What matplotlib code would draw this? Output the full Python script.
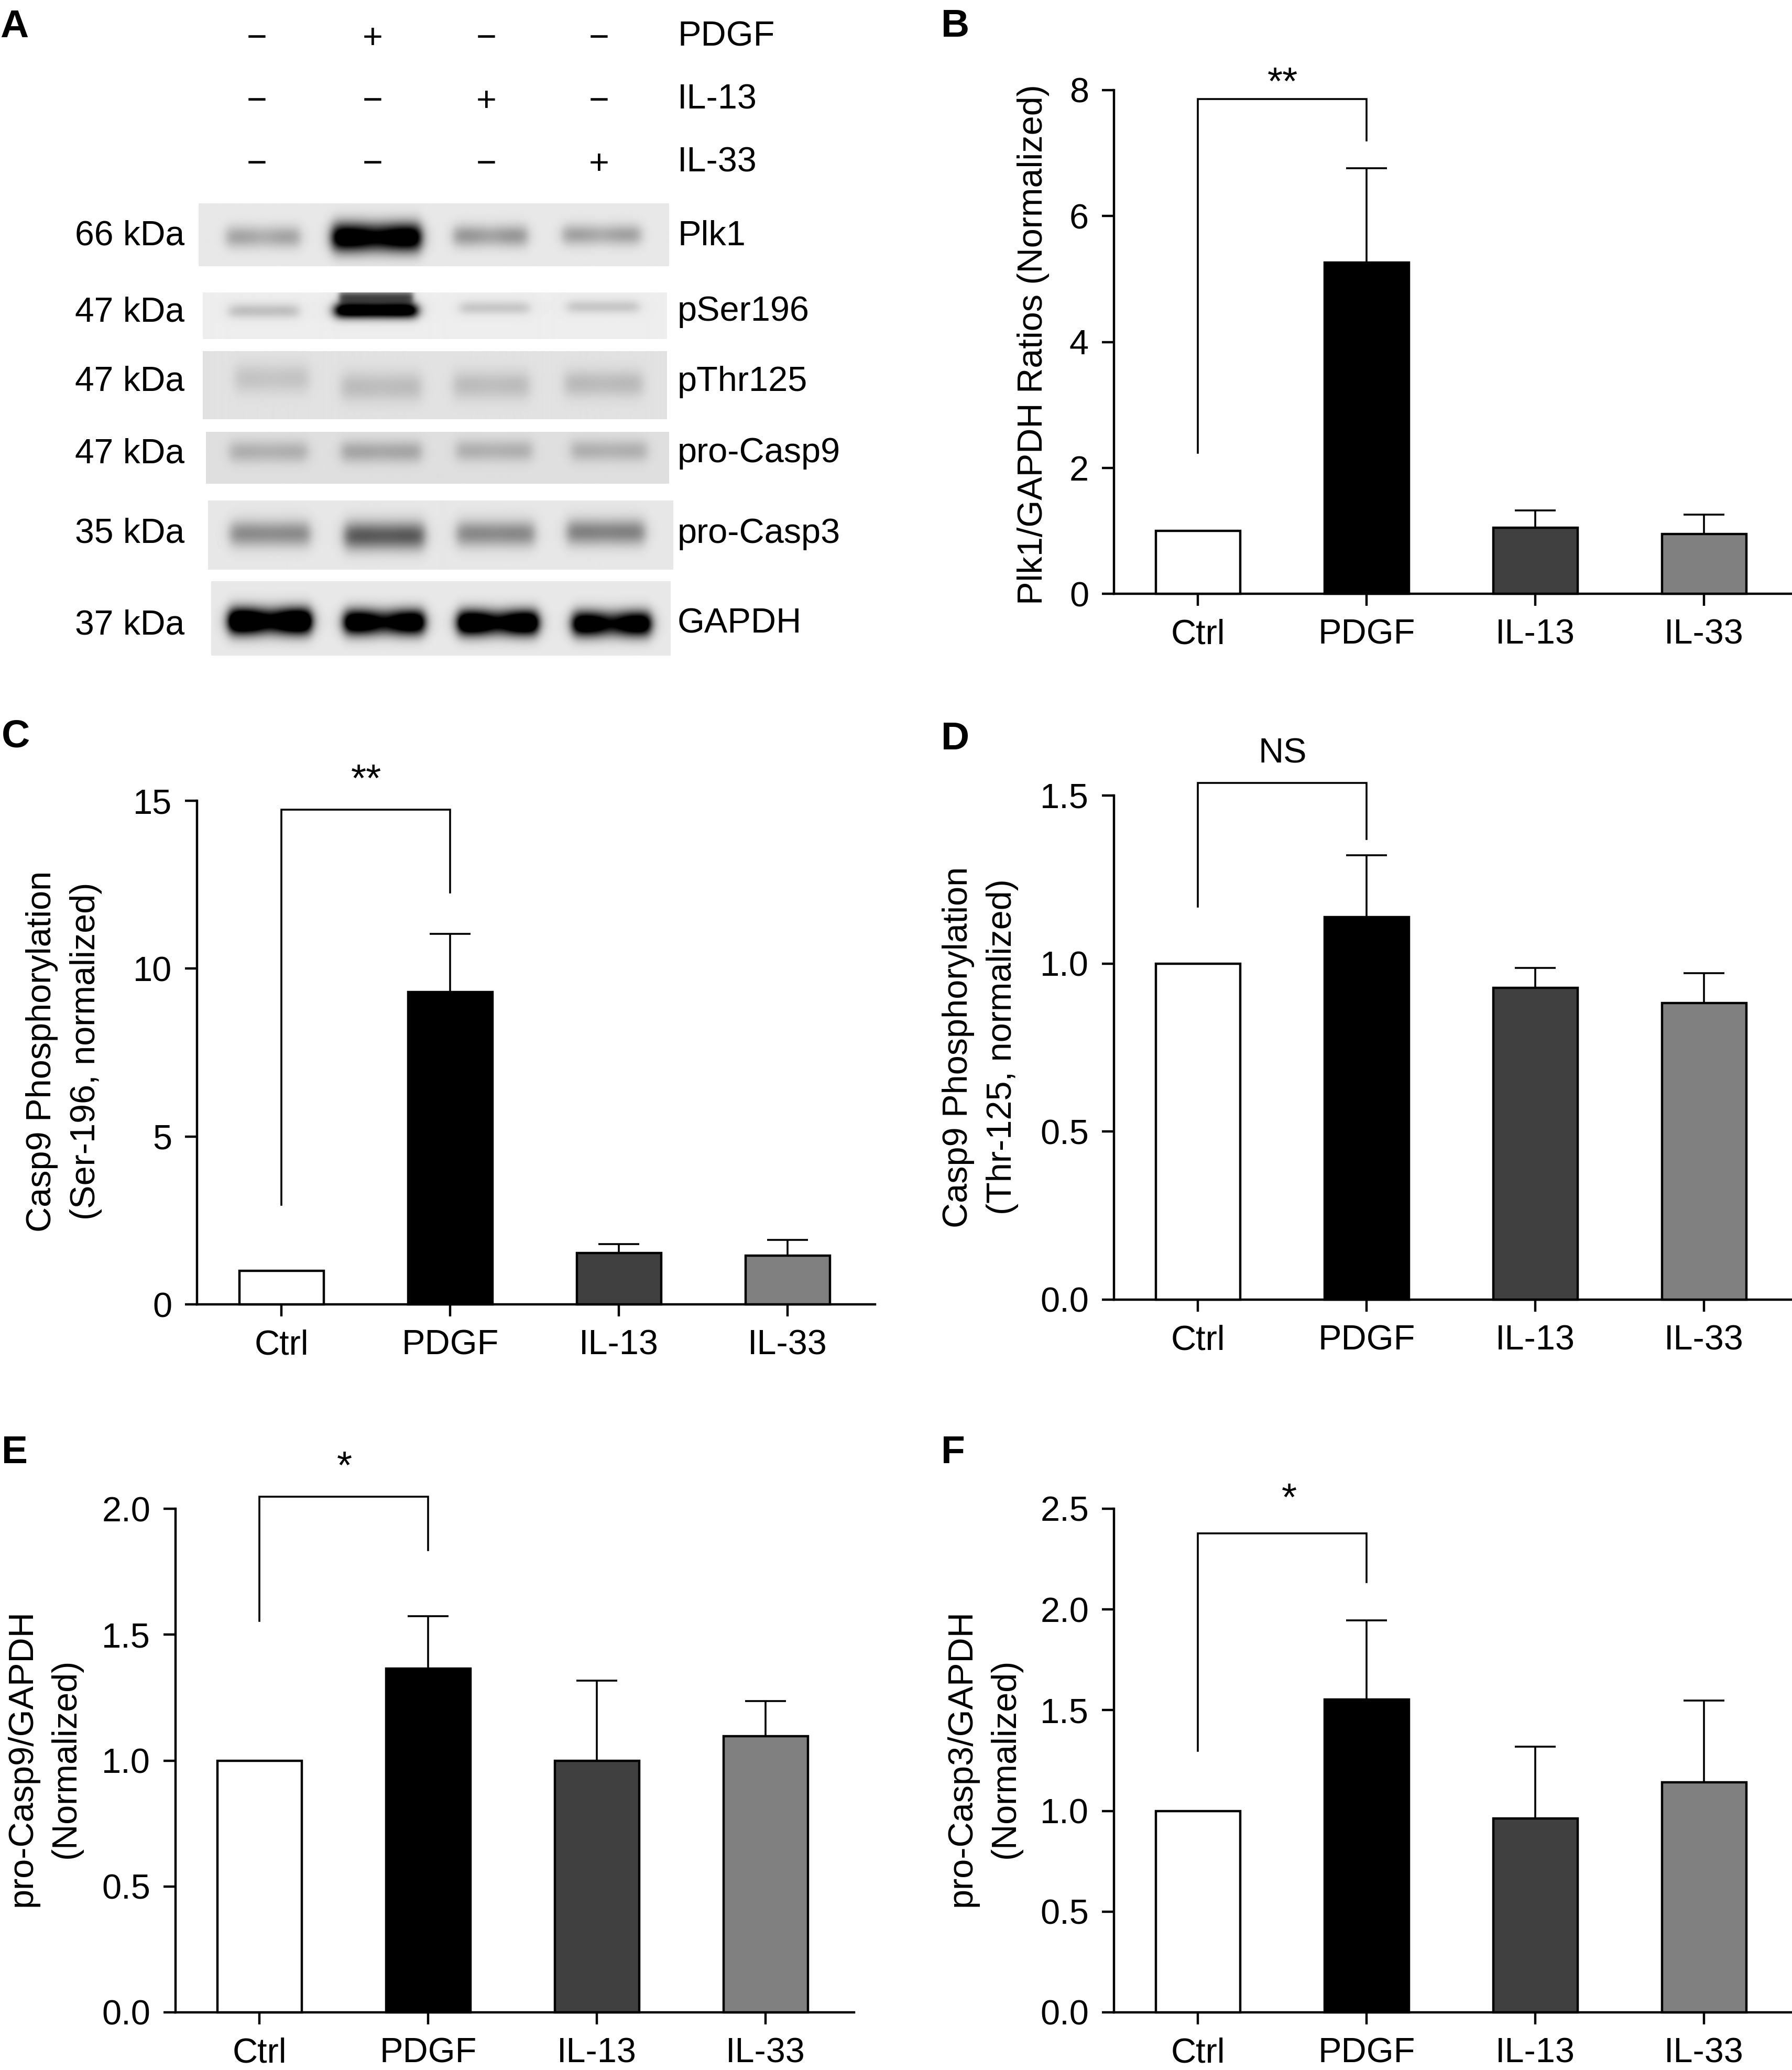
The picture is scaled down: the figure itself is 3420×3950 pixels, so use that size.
import numpy as np
import matplotlib
matplotlib.use("Agg")
import matplotlib.pyplot as plt

plt.rcParams["font.family"] = ["Liberation Sans", "DejaVu Sans"]

W, H = 3420, 3950
FS = 48
LW = 3.2

categories = ["Ctrl", "PDGF", "IL-13", "IL-33"]
bar_colors = ["white", "black", "#404040", "#808080"]

# panel values: bar height and top of the error bar
plk1_vals = [1.0, 5.26, 1.05, 0.945]
plk1_tops = [None, 6.76, 1.32, 1.256]
ser196_vals = [1.0, 9.30, 1.53, 1.45]
ser196_tops = [None, 11.04, 1.80, 1.92]
thr125_vals = [1.0, 1.139, 0.927, 0.882]
thr125_tops = [None, 1.323, 0.987, 0.971]
casp9_vals = [1.0, 1.366, 1.0, 1.096]
casp9_tops = [None, 1.574, 1.318, 1.237]
casp3_vals = [1.0, 1.552, 0.963, 1.141]
casp3_tops = [None, 1.946, 1.32, 1.548]

# significance brackets: left foot, top, right foot
plk1_bracket = [2.24, 7.86, 7.2]
ser196_bracket = [2.96, 14.74, 12.27]
thr125_bracket = [1.169, 1.538, 1.371]
casp9_bracket = [1.555, 2.048, 1.836]
casp3_bracket = [1.299, 2.378, 2.137]

# blot header
treatments = ["PDGF", "IL-13", "IL-33"]
treatment_signs = [["−", "+", "−", "−"],
                   ["−", "−", "+", "−"],
                   ["−", "−", "−", "+"]]

# blot strips, band darkness per lane
blot_names = ["Plk1", "pSer196", "pThr125", "pro-Casp9", "pro-Casp3", "GAPDH"]
blot_kda = ["66 kDa", "47 kDa", "47 kDa", "47 kDa", "35 kDa", "37 kDa"]
blot_bands = [[0.27, 1.25, 0.32, 0.28],
              [0.18, 1.25, 0.15, 0.15],
              [0.12, 0.15, 0.15, 0.16],
              [0.19, 0.23, 0.19, 0.19],
              [0.36, 0.56, 0.37, 0.40],
              [1.60, 1.40, 1.50, 1.35]]
blot_dips = [0.18, 0.03, 0.08, 0.08, 0.04, 0.30]
blot_bg = [0.91, 0.93, 0.885, 0.875, 0.905, 0.91]

fig = plt.figure(figsize=(W / 100, H / 100), dpi=100, facecolor="white")


def px_text(x, y, s, **kw):
    kw.setdefault("fontsize", FS)
    kw.setdefault("va", "baseline")
    return fig.text(x / W, 1 - y / H, s, color="black", **kw)


def strip(box, lanes, widths, centers, halves, bands, dip, bg, extra=None):
    x0, x1, y0, y1 = box
    ax = fig.add_axes([x0 / W, 1 - y1 / H, (x1 - x0) / W, (y1 - y0) / H])
    xx, yy = np.meshgrid(np.arange(x0, x1), np.arange(y0, y1))
    img = np.full(xx.shape, float(bg))
    for lane, hw, yc, half, d in zip(lanes, widths, centers, halves, bands):
        across = 0.5 * (np.tanh((xx - lane + hw) / 12) - np.tanh((xx - lane - hw) / 12))
        across = across * (1 - dip * np.exp(-((xx - lane) / (0.4 * hw)) ** 2))
        img -= d * across * np.exp(-((yy - yc) / half) ** 2)
    if extra:
        lane, hw, yc, half, d = extra
        across = 0.5 * (np.tanh((xx - lane + hw) / 6) - np.tanh((xx - lane - hw) / 6))
        img -= d * across * np.exp(-((yy - yc) / half) ** 2)
    ax.imshow(np.clip(img, 0, 1), cmap="gray", vmin=0, vmax=1, aspect="auto",
              interpolation="bilinear")
    ax.axis("off")


def panel(left, right, top, bottom, c0, ymax, yticks, ticklabels, vals, tops, bracket):
    ax = fig.add_axes([left / W, 1 - bottom / H, (right - left) / W, (bottom - top) / H])
    ax.patch.set_alpha(0)
    ax.set_xlim((left - c0) / 322, (right - c0) / 322)
    ax.set_ylim(0, ymax)
    x = np.arange(4)
    ax.bar(x, vals, width=0.5, color=bar_colors, edgecolor="black", linewidth=LW,
           zorder=3, clip_on=False)
    for i in range(1, 4):
        ax.errorbar(x[i], vals[i], yerr=[[0], [tops[i] - vals[i]]], color="black",
                    elinewidth=2.6, capsize=28, capthick=2.6, zorder=2, clip_on=False)
    ax.plot([0, 0, 1, 1], [bracket[0], bracket[1], bracket[1], bracket[2]], color="black",
            linewidth=2.6, clip_on=False, solid_joinstyle="miter")
    for s in ["top", "right"]:
        ax.spines[s].set_visible(False)
    for s in ["left", "bottom"]:
        ax.spines[s].set_linewidth(LW)
    ax.set_xticks(x)
    ax.set_xticklabels(categories)
    ax.set_yticks(yticks)
    ax.set_yticklabels(ticklabels)
    ax.tick_params(axis="x", length=16.5, width=LW, pad=18, labelsize=FS)
    ax.tick_params(axis="y", length=16.5, width=LW, pad=18, labelsize=FS)
    return ax


# panel A
lanes_hdr = [490, 711, 928, 1143]
rows_hdr = [92, 212, 332]
label_rows = [88, 207, 328]
for r in range(3):
    for i in range(4):
        px_text(lanes_hdr[i], rows_hdr[r], treatment_signs[r][i], ha="center")
    px_text(1293, label_rows[r], treatments[r])

strip_boxes = [(379, 1276, 388, 508), (387, 1272, 558, 647), (387, 1272, 670, 800),
               (393, 1276, 824, 923), (397, 1284, 955, 1087), (403, 1280, 1109, 1251)]
strip_lanes = [[502, 718, 935, 1147], [503, 717, 943, 1150], [518, 727, 937, 1151],
               [512, 727, 942, 1161], [515, 733, 945, 1155], [515, 733, 950, 1167]]
lane_widths = [[70, 84, 70, 74], [66, 78, 66, 68], [70, 76, 72, 74],
               [74, 76, 72, 72], [76, 76, 74, 74], [78, 76, 76, 74]]
band_y = [[452, 453, 450, 448], [593, 592, 587, 585], [722, 738, 735, 732],
          [862, 862, 860, 860], [1018, 1022, 1018, 1015], [1185, 1187, 1188, 1190]]
band_half = [[21, 27, 21, 20], [14, 15, 13, 13], [28, 28, 27, 26],
             [21, 21, 21, 21], [25, 27, 25, 25], [25, 24, 24, 24]]
kda_y = [467, 613, 746, 884, 1036, 1210]
name_y = [468, 612, 746, 882, 1036, 1207]
for k in range(6):
    extra = (717, 70, 566, 13, 0.6) if k == 1 else None
    strip(strip_boxes[k], strip_lanes[k], lane_widths[k], band_y[k], band_half[k],
          blot_bands[k], blot_dips[k], blot_bg[k], extra)
    px_text(352, kda_y[k], blot_kda[k], ha="right", fontsize=47.5)
    px_text(1293, name_y[k], blot_names[k])

# bar panels
panel(2126, 3420, 172, 1133, 2286, 8, [0, 2, 4, 6, 8], ["0", "2", "4", "6", "8"],
      plk1_vals, plk1_tops, plk1_bracket)
panel(376, 1670, 1528, 2489, 537, 15, [0, 5, 10, 15], ["0", "5", "10", "15"],
      ser196_vals, ser196_tops, ser196_bracket)
panel(2126, 3420, 1518, 2480, 2286, 1.5, [0, 0.5, 1, 1.5], ["0.0", "0.5", "1.0", "1.5"],
      thr125_vals, thr125_tops, thr125_bracket)
panel(335, 1630, 2879, 3840, 495, 2, [0, 0.5, 1, 1.5, 2], ["0.0", "0.5", "1.0", "1.5", "2.0"],
      casp9_vals, casp9_tops, casp9_bracket)
panel(2126, 3420, 2879, 3840, 2286, 2.5, [0, 0.5, 1, 1.5, 2, 2.5],
      ["0.0", "0.5", "1.0", "1.5", "2.0", "2.5"], casp3_vals, casp3_tops, casp3_bracket)

# axis titles
ylab = dict(rotation=90, ha="center", va="center", linespacing=1.45, multialignment="center")
px_text(1972, 658, "Plk1/GAPDH Ratios (Normalized)", **ylab)
px_text(122, 2006, "Casp9 Phosphorylation\n(Ser-196, normalized)", **ylab)
px_text(1871, 1998, "Casp9 Phosphorylation\n(Thr-125, normalized)", **ylab)
px_text(84, 3355, "pro-Casp9/GAPDH\n(Normalized)", **ylab)
px_text(1877, 3355, "pro-Casp3/GAPDH\n(Normalized)", **ylab)

# significance marks
px_text(2448, 180, "**", ha="center", fontsize=54)
px_text(699, 1510, "**", ha="center", fontsize=54)
px_text(2448, 1456, "NS", ha="center")
px_text(657, 2821, "*", ha="center", fontsize=54)
px_text(2460, 2882, "*", ha="center", fontsize=54)

# panel letters
letter = dict(fontsize=54, fontweight="bold")
px_text(0, 71, "A", **letter)
px_text(1796, 70, "B", **letter)
px_text(3, 1426, "C", **letter)
px_text(1796, 1430, "D", **letter)
px_text(3, 2792, "E", **letter)
px_text(1796, 2792, "F", **letter)

fig.savefig("out.png", dpi=100, facecolor="white")
